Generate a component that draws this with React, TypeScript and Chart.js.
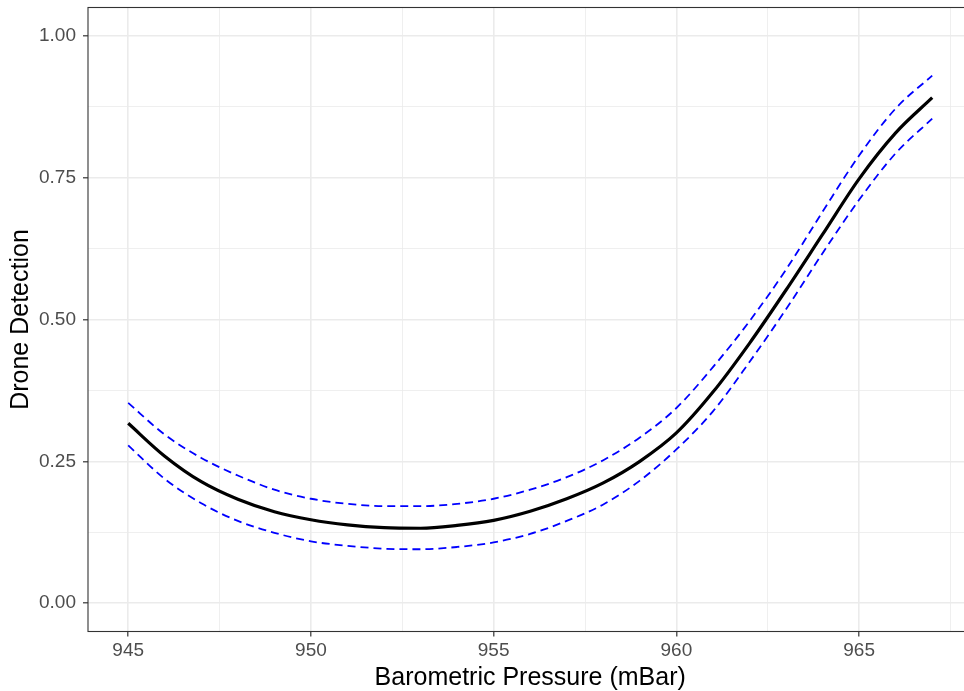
import React, { useEffect, useRef } from "react";
import { Chart, registerables } from "chart.js";

Chart.register(...registerables);

const pressure = [945, 946, 947, 948, 949, 950, 951, 952, 953, 954, 955, 956, 957, 958, 959, 960, 961, 962, 963, 964, 965, 966, 967];
const fitValues = [0.317, 0.259, 0.214, 0.183, 0.161, 0.147, 0.138, 0.133, 0.132, 0.137, 0.146, 0.162, 0.184, 0.212, 0.25, 0.3, 0.372, 0.458, 0.552, 0.65, 0.748, 0.829, 0.891];
const upperValues = [0.353, 0.297, 0.256, 0.225, 0.2, 0.184, 0.175, 0.171, 0.171, 0.175, 0.184, 0.2, 0.222, 0.252, 0.292, 0.344, 0.416, 0.497, 0.588, 0.69, 0.789, 0.872, 0.93];
const lowerValues = [0.278, 0.219, 0.176, 0.145, 0.124, 0.109, 0.101, 0.096, 0.095, 0.099, 0.107, 0.122, 0.145, 0.174, 0.216, 0.271, 0.338, 0.425, 0.518, 0.617, 0.711, 0.793, 0.854];

const xTicks = [945, 947.5, 950, 952.5, 955, 957.5, 960, 962.5, 965, 967.5];
const yTicks = [0, 0.125, 0.25, 0.375, 0.5, 0.625, 0.75, 0.875, 1];

const FONT = "'Liberation Sans', Arial, sans-serif";

const isMajorX = (v: number) => Math.abs(v / 5 - Math.round(v / 5)) < 1e-6;
const isMajorY = (v: number) => Math.abs(v / 0.25 - Math.round(v / 0.25)) < 1e-6;

const borderPlugin = {
  id: "panelBorder",
  afterDraw(chart: any) {
    const { ctx, chartArea } = chart;
    ctx.save();
    ctx.strokeStyle = "#333333";
    ctx.lineWidth = 1.1;
    ctx.strokeRect(chartArea.left, chartArea.top, chartArea.right - chartArea.left, chartArea.bottom - chartArea.top);
    ctx.restore();
  },
};

export default function App() {
  const ref = useRef<HTMLCanvasElement | null>(null);

  useEffect(() => {
    if (!ref.current) return;
    const toPts = (arr: number[]) => pressure.map((x, i) => ({ x, y: arr[i] }));
    const dashed = (arr: number[]) => ({
      data: toPts(arr),
      borderColor: "#0000FF",
      borderWidth: 1.8,
      borderDash: [8, 5],
      borderCapStyle: "butt",
      pointRadius: 0,
      cubicInterpolationMode: "monotone",
      fill: false,
    });
    const chart = new Chart(ref.current, {
      type: "line",
      data: {
        datasets: [
          dashed(upperValues),
          dashed(lowerValues),
          {
            data: toPts(fitValues),
            borderColor: "#000000",
            borderWidth: 3.2,
            pointRadius: 0,
            cubicInterpolationMode: "monotone",
            fill: false,
          },
        ],
      },
      options: {
        animation: false,
        responsive: false,
        events: [],
        layout: { padding: { top: 7.5, right: 3.6, left: 0, bottom: 0 } },
        plugins: { legend: { display: false }, tooltip: { enabled: false } },
        scales: {
          x: {
            type: "linear",
            min: 943.9,
            max: 968.1,
            afterBuildTicks: (scale: any) => {
              scale.ticks = xTicks.map((v) => ({ value: v }));
            },
            afterFit: (scale: any) => {
              scale.height = 59.5;
              scale.paddingLeft = 0;
              scale.paddingRight = 0;
            },
            border: { display: false },
            grid: {
              color: "#EBEBEB",
              lineWidth: (ctx: any) => (ctx.tick && isMajorX(ctx.tick.value) ? 1.6 : 0.8),
              tickColor: (ctx: any) => (ctx.tick && isMajorX(ctx.tick.value) ? "#333333" : "rgba(0,0,0,0)"),
              tickWidth: 1.2,
              tickLength: 5,
            },
            ticks: {
              autoSkip: false,
              maxRotation: 0,
              padding: 3,
              color: "#4D4D4D",
              font: { family: FONT, size: 19 },
              callback: (value: any) => (isMajorX(Number(value)) ? String(value) : ""),
            },
            title: {
              display: true,
              text: "Barometric Pressure (mBar)",
              color: "#000000",
              font: { family: FONT, size: 25, lineHeight: 1 },
              padding: { top: 0, bottom: 0.5 },
            },
          },
          y: {
            type: "linear",
            min: -0.05,
            max: 1.05,
            afterBuildTicks: (scale: any) => {
              scale.ticks = yTicks.map((v) => ({ value: v }));
            },
            afterFit: (scale: any) => {
              scale.width = 88;
              scale.paddingTop = 0;
              scale.paddingBottom = 0;
            },
            border: { display: false },
            grid: {
              color: "#EBEBEB",
              lineWidth: (ctx: any) => (ctx.tick && isMajorY(ctx.tick.value) ? 1.6 : 0.8),
              tickColor: (ctx: any) => (ctx.tick && isMajorY(ctx.tick.value) ? "#333333" : "rgba(0,0,0,0)"),
              tickWidth: 1.2,
              tickLength: 5,
            },
            ticks: {
              autoSkip: false,
              padding: 7,
              color: "#4D4D4D",
              font: { family: FONT, size: 19 },
              callback: (value: any) => (isMajorY(Number(value)) ? Number(value).toFixed(2) : ""),
            },
            title: {
              display: true,
              text: "Drone Detection",
              color: "#000000",
              font: { family: FONT, size: 25, lineHeight: 1 },
              padding: { top: 8.5, bottom: 0 },
            },
          },
        },
      },
      plugins: [borderPlugin],
    } as any);
    return () => chart.destroy();
  }, []);

  return (
    <div style={{ position: "fixed", left: 0, top: 0, width: 964, height: 691, overflow: "hidden", background: "#ffffff" }}>
      <div style={{ width: 976, height: 691 }}>
        <canvas ref={ref} width={976} height={691} style={{ display: "block", width: 976, height: 691 }} />
      </div>
    </div>
  );
}
